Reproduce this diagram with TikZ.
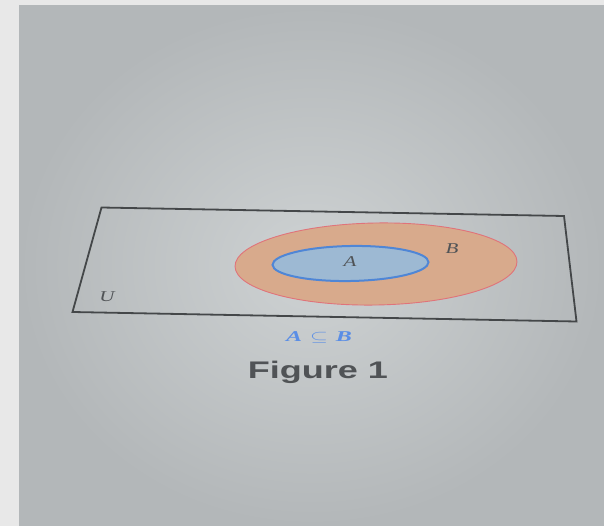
\documentclass[tikz,border=0pt]{standalone}
\usepackage{fontspec}
\setmainfont{Liberation Serif}
\newfontfamily\figfont{Liberation Sans}
\usetikzlibrary{shapes.geometric}
\definecolor{strip}{HTML}{E8E8E8}
\definecolor{pagein}{HTML}{CED2D3}
\definecolor{pageout}{HTML}{B3B7B9}
\definecolor{bfill}{HTML}{D8AA8C}
\definecolor{bline}{HTML}{E0737A}
\definecolor{afill}{HTML}{9DB9D3}
\definecolor{aline}{HTML}{4F86D6}
\definecolor{ink}{HTML}{505356}
\definecolor{capblue}{HTML}{5A8EE6}
\tikzset{
  setlabel/.style={font=\itshape\fontsize{15}{15}\selectfont, text=ink, inner sep=0pt, xscale=1.4},
  universe/.style={draw=ink!85!black, line width=1.8pt, line join=miter},
}
\begin{document}
\begin{tikzpicture}[x=1pt,y=-1pt]
\useasboundingbox (0,0) rectangle (604,526);
% photo background
\fill[strip] (0,0) rectangle (604,526);
\shade[inner color=pagein, outer color=pageout] (19,6) rectangle (604,526);
% universe (perspective rectangle)
\coordinate (tl) at (101.5,207.5);
\coordinate (tr) at (564,216);
\coordinate (br) at (576.5,321.5);
\coordinate (bl) at (72.5,312);
\draw[universe] (tl) -- (tr) -- (br) -- (bl) -- cycle;
% sets
\node (B) [ellipse, fill=bfill, draw=bline, line width=0.9pt, minimum width=282pt, minimum height=82pt, inner sep=0pt, rotate=1] at (376,264) {};
\node (A) [ellipse, fill=afill, draw=aline, line width=2pt, minimum width=156pt, minimum height=35pt, inner sep=0pt, rotate=1] at (350.5,263.5) {};
\node (lA) [setlabel] at (350,262) {A};
\node (lB) [setlabel] at (452,249) {B};
\node (lU) [setlabel] at (107,297) {U};
% caption
\node (cap) [text=capblue, inner sep=0pt, xscale=1.6, font=\fontsize{15}{15}\selectfont] at (319,338) {\bfseries\itshape A\,\,$\subseteq$\,\,B};
\node (fig) [text=ink, inner sep=0pt, xscale=1.5, font=\figfont\bfseries\fontsize{24}{24}\selectfont] at (318,372) {Figure 1};
\end{tikzpicture}
\end{document}
